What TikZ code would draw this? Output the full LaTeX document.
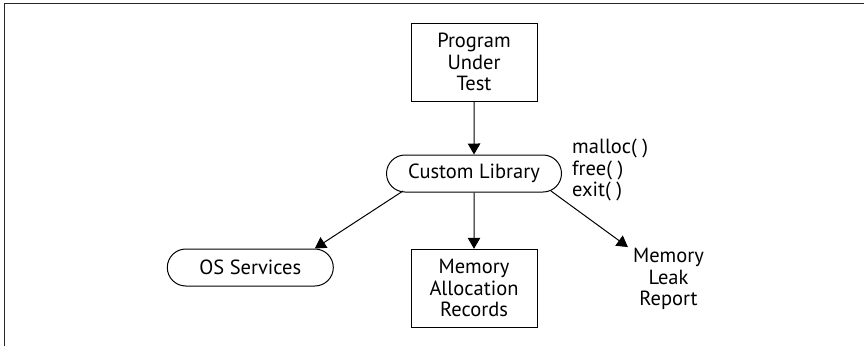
\documentclass[tikz,border=0pt]{standalone}
\usepackage{fontspec}
\setmainfont{PT Sans}
\usetikzlibrary{arrows.meta,shapes.misc}
\usetikzlibrary{positioning}

\begin{document}
\begin{tikzpicture}[x=1pt,y=-1pt,font=\fontsize{20.5}{21.5}\selectfont]
		\tikzstyle{rect} = [rectangle, minimum width=126pt, minimum height=78pt, inner sep=0pt, align=center, draw=black, line width=1pt]
		\tikzstyle{pill} = [rounded rectangle, minimum height=37pt, inner sep=0pt, align=center, draw=black, line width=1pt]
		\tikzstyle{plain} = [inner sep=0pt, align=center]
		\tikzstyle{arrow} = [line width=1pt,-{Triangle[length=11pt,width=12.5pt]}]
		\useasboundingbox (0,0) rectangle (864,346);
		\draw[line width=1.3pt, black!85] (4.3,346) -- (4.3,3.5) -- (864,3.5);
		\node (prog) [rect] at (474,62) {Program\\Under\\Test};
		\node (lib) [pill, minimum width=175pt] at (474,173.5) {Custom Library};
		\node (calls) [plain, align=left, anchor=west] at (572,170) {malloc( )\\free( )\\exit( )};
		\node (os) [pill, minimum width=166pt] at (250.3,267.5) {OS Services};
		\node (mar) [rect] at (474,288.3) {Memory\\Allocation\\Records};
		\node (leak) [plain] at (668.5,279) {Memory\\Leak\\Report};
		\draw[arrow] (prog) -- (lib);
		\draw[arrow] (lib) -- (mar);
		\draw[arrow] ([xshift=-71pt,yshift=1.5pt]lib.south) -- (os.north east);
		\draw[arrow] ([xshift=77pt,yshift=1.5pt]lib.south) -- ([xshift=-5pt,yshift=1pt]leak.north west);
	\end{tikzpicture}
\end{document}
